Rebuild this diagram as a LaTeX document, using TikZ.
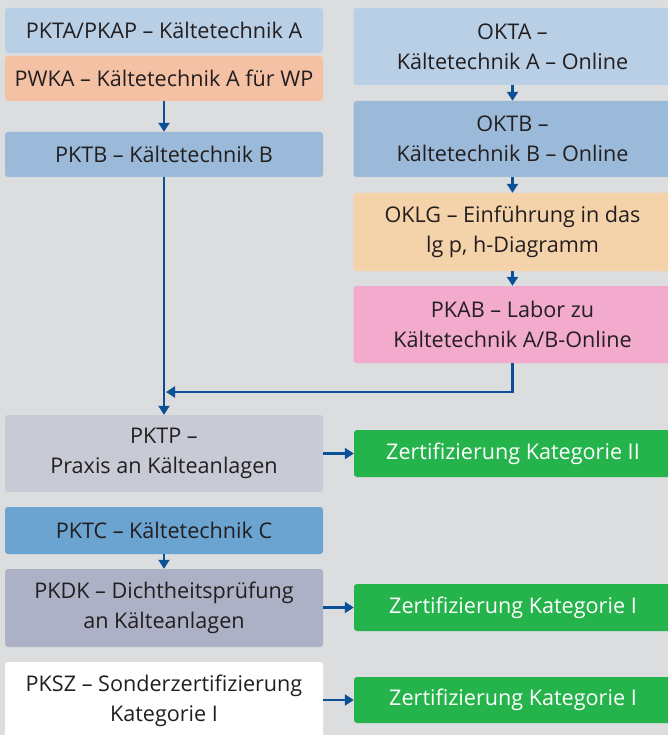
\documentclass[tikz,border=0pt]{standalone}
\usepackage{fontspec}
\setmainfont{Open Sans}
\usetikzlibrary{arrows.meta}
\definecolor{bgcol}{HTML}{DCDDDF}
\definecolor{blueA}{HTML}{B9CFE6}
\definecolor{blueB}{HTML}{9BBAD9}
\definecolor{blueC}{HTML}{6BA3D1}
\definecolor{salmon}{HTML}{F4C1A4}
\definecolor{sand}{HTML}{F5D3AA}
\definecolor{rose}{HTML}{F2AACD}
\definecolor{greyA}{HTML}{C8CAD5}
\definecolor{greyB}{HTML}{ADB1C6}
\definecolor{certgreen}{HTML}{25B34B}
\definecolor{flowblue}{HTML}{0B4F96}
\definecolor{txt}{HTML}{231F20}
\tikzset{
  box/.style={rounded corners=3pt, inner sep=0pt, minimum width=318pt,
    align=center, text=txt, font=\fontsize{21.6}{30}\selectfont},
  certbox/.style={box, fill=certgreen, text=white, minimum height=47pt},
  flow/.style={draw=flowblue, line width=2.2pt,
    -{Triangle[width=11pt,length=9pt]}},
}
\begin{document}
\begin{tikzpicture}[x=1pt,y=-1pt]
\useasboundingbox (0,0) rectangle (668,735);
\clip (0,0) rectangle (668,735);
\fill[bgcol] (0,0) rectangle (668,735);

% left column
\node[box, fill=blueA, minimum height=45pt] (pkta) at (164,30.5) {PKTA/PKAP – Kältetechnik A};
\node[box, fill=salmon, minimum height=45pt] (pwka) at (164,78.5) {PWKA – Kältetechnik A für WP};
\node[box, fill=blueB, minimum height=45pt] (pktb) at (164,154.5) {PKTB – Kältetechnik B};

% online column
\node[box, fill=blueA, minimum height=77pt] (okta) at (512.5,46.5) {OKTA –\\Kältetechnik A – Online};
\node[box, fill=blueB, minimum height=76pt] (oktb) at (512.5,139) {OKTB –\\Kältetechnik B – Online};
\node[box, fill=sand, minimum height=78pt] (oklg) at (512.5,232) {OKLG – Einführung in das\\lg p, h-Diagramm};
\node[box, fill=rose, minimum height=77pt] (pkab) at (512.5,324.5) {PKAB – Labor zu\\Kältetechnik A/B-Online};

% practice and certification
\node[box, fill=greyA, minimum height=77pt] (pktp) at (164,453.5) {PKTP –\\Praxis an Kälteanlagen};
\node[certbox] (zert2) at (513,453.5) {Zertifizierung Kategorie II};
\node[box, fill=blueC, minimum height=47pt] (pktc) at (164,530.5) {PKTC – Kältetechnik C};
\node[box, fill=greyB, minimum height=78pt] (pkdk) at (164,608) {PKDK – Dichtheitsprüfung\\an Kälteanlagen};
\node[certbox] (zert1a) at (513,607.5) {Zertifizierung Kategorie I};
\node[box, fill=white, minimum height=78pt] (pksz) at (164,701) {PKSZ – Sonderzertifizierung\\Kategorie I};
\node[certbox, minimum height=46pt] (zert1b) at (513,700) {Zertifizierung Kategorie I};

% connectors
\coordinate (merge) at (166,392);
\draw[flow] (pwka) -- (pktb);
\draw[flow] (pktb) -- (pktp);
\draw[flow] (okta) -- (oktb);
\draw[flow] (oktb) -- (oklg);
\draw[flow] (oklg) -- (pkab);
\draw[flow] (pkab.south) |- (merge);
\draw[flow] (pktc) -- (pkdk);
\draw[flow] (pktp) -- (zert2);
\draw[flow] (pkdk.east |- zert1a) -- (zert1a);
\draw[flow] (pksz.east |- zert1b) -- (zert1b);
\end{tikzpicture}
\end{document}
